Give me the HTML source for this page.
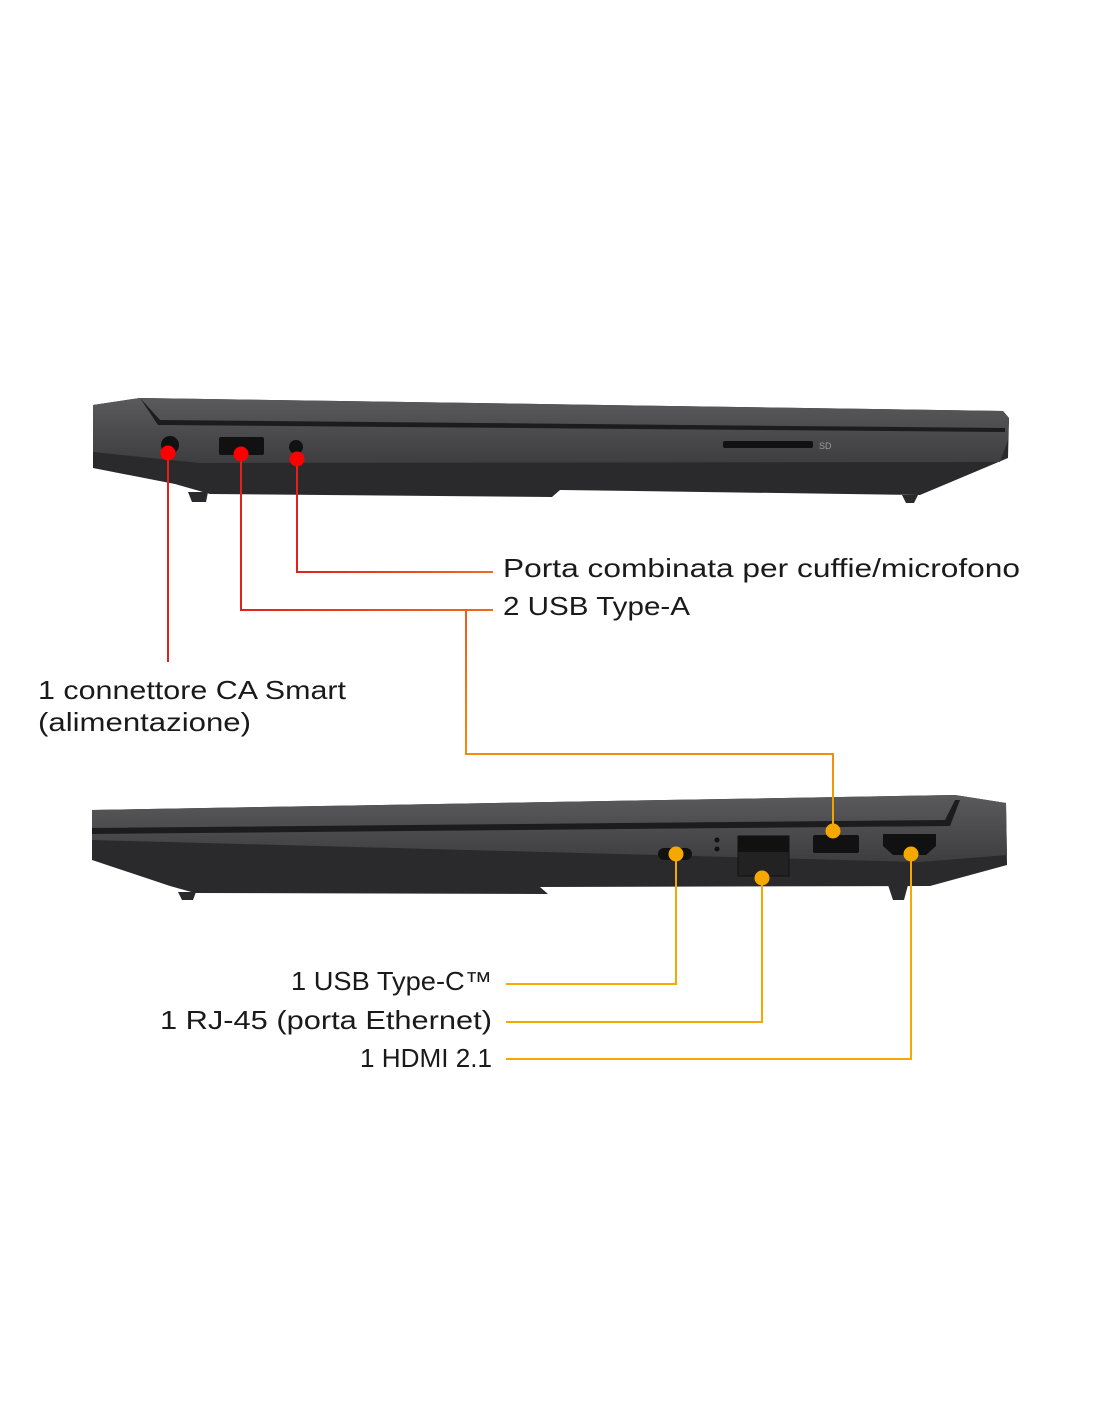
<!DOCTYPE html>
<html><head><meta charset="utf-8"><style>
html,body{margin:0;padding:0;background:#fff;}
svg{display:block}
text{font-family:"Liberation Sans",sans-serif;font-size:26px;fill:#1a1a1a;}
</style></head><body>
<svg width="1100" height="1422" viewBox="0 0 1100 1422">
<defs>
<linearGradient id="lid" x1="0" y1="0" x2="0" y2="1"><stop offset="0" stop-color="#5a5a5c"/><stop offset="1" stop-color="#3e3e40"/></linearGradient>
<linearGradient id="g1" x1="0" x2="1"><stop offset="0" stop-color="#e3201b"/><stop offset="1" stop-color="#ef6a22"/></linearGradient>
<linearGradient id="g2" x1="0" x2="0" y1="0" y2="1"><stop offset="0" stop-color="#ea5a22"/><stop offset="1" stop-color="#f5a800"/></linearGradient>
</defs>
<!-- TOP LAPTOP -->
<polygon points="93,405 140,398 1003,411 1009,418 1008,458 920,495 560,490 552,497 210,494 175,484 93,468" fill="#2a2a2c"/>
<polygon points="93,405 140,398 1003,411 1009,418 1008,440 1000,462 200,463 93,452" fill="url(#lid)"/>
<polygon points="140,398 160,420 1005,428 1005,432 158,425" fill="#1c1c1e"/>
<polygon points="188,492 208,492 206,502 192,502" fill="#2a2a2c"/>
<polygon points="902,495 918,495 914,503 906,503" fill="#2a2a2c"/>
<circle cx="170" cy="445" r="9" fill="#111"/>
<rect x="219" y="437" width="45" height="18" rx="2" fill="#111"/>
<circle cx="296" cy="447" r="7" fill="#111"/>
<rect x="723" y="441" width="90" height="7" rx="2" fill="#111"/>
<text x="819" y="449" style="font-size:9px;fill:#999">SD</text>
<!-- BOTTOM LAPTOP -->
<polygon points="92,810 955,795 1006,803 1007,865 930,886 540,887 548,894 195,893 170,886 92,860" fill="#2a2a2c"/>
<polygon points="92,810 955,795 1006,803 1007,855 920,862 92,840" fill="url(#lid)"/>
<polygon points="92,828 945,820 955,800 960,800 950,826 92,834" fill="#1c1c1e"/>
<polygon points="178,892 196,892 193,900 182,900" fill="#2a2a2c"/>
<polygon points="888,885 908,885 904,900 893,900" fill="#2a2a2c"/>
<rect x="658" y="848" width="34" height="12" rx="6" fill="#111"/>
<rect x="738" y="836" width="51" height="40" fill="#222" stroke="#111"/>
<rect x="738" y="836" width="51" height="16" fill="#111"/>
<rect x="813" y="835" width="46" height="18" rx="2" fill="#111"/>
<polygon points="883,834 936,834 936,846 926,855 893,855 883,846" fill="#111"/>
<circle cx="717" cy="840" r="2.5" fill="#111"/><circle cx="717" cy="849" r="2.5" fill="#111"/>
<!-- connectors -->
<g fill="none" stroke-width="2">
<path d="M168,453 V662" stroke="#e3201b"/>
<path d="M297,459 V572 H493" stroke="url(#g1)"/>
<path d="M241,454 V610 H493" stroke="url(#g1)"/>
<path d="M466,610 V754 H833 V831" stroke="url(#g2)"/>
<path d="M676,854 V984 H506" stroke="#f5a800"/>
<path d="M762,878 V1022 H506" stroke="#f5a800"/>
<path d="M911,854 V1059 H506" stroke="#f5a800"/>
</g>
<g fill="#ff0000"><circle cx="168" cy="453" r="7.5"/><circle cx="241" cy="454" r="7.5"/><circle cx="297" cy="459" r="7.5"/></g>
<g fill="#f5a800"><circle cx="676" cy="854" r="7.5"/><circle cx="762" cy="878" r="7.5"/><circle cx="833" cy="831" r="7.5"/><circle cx="911" cy="854" r="7.5"/></g>
<text x="503" y="577" textLength="517" lengthAdjust="spacingAndGlyphs">Porta combinata per cuffie/microfono</text>
<text x="503" y="615" textLength="187" lengthAdjust="spacingAndGlyphs">2 USB Type-A</text>
<text x="38" y="699" textLength="308" lengthAdjust="spacingAndGlyphs">1 connettore CA Smart</text>
<text x="38" y="731" textLength="213" lengthAdjust="spacingAndGlyphs">(alimentazione)</text>
<text x="291" y="990" textLength="201" lengthAdjust="spacingAndGlyphs">1 USB Type-C™</text>
<text x="160" y="1029" textLength="332" lengthAdjust="spacingAndGlyphs">1 RJ-45 (porta Ethernet)</text>
<text x="360" y="1067" textLength="132" lengthAdjust="spacingAndGlyphs">1 HDMI 2.1</text>
</svg>
</body></html>
